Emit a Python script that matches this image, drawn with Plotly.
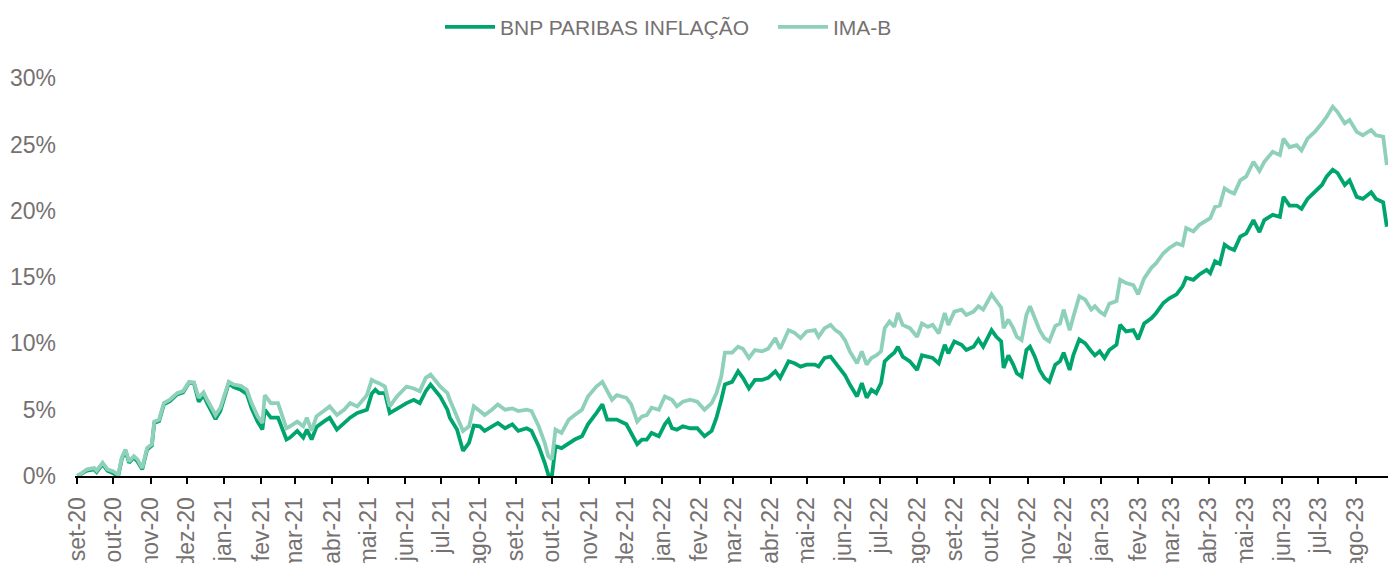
import plotly.graph_objects as go
import pandas as pd

dates = [
    "2020-09-01","2020-09-09","2020-09-15","2020-09-17","2020-09-22","2020-09-26","2020-10-01","2020-10-05",
    "2020-10-08","2020-10-11","2020-10-14","2020-10-18","2020-10-21","2020-10-25","2020-10-29","2020-11-02",
    "2020-11-04","2020-11-08","2020-11-12","2020-11-17","2020-11-23","2020-11-28","2020-12-03","2020-12-07",
    "2020-12-11","2020-12-15","2020-12-18","2020-12-25","2020-12-29","2021-01-02","2021-01-05","2021-01-09",
    "2021-01-15","2021-01-20","2021-01-24","2021-01-29","2021-02-02","2021-02-04","2021-02-09","2021-02-15",
    "2021-02-20","2021-02-22","2021-02-25","2021-03-03","2021-03-08","2021-03-11","2021-03-15","2021-03-19",
    "2021-03-25","2021-03-30","2021-04-05","2021-04-11","2021-04-16","2021-04-22","2021-04-30","2021-05-04",
    "2021-05-07","2021-05-10","2021-05-15","2021-05-19","2021-05-25","2021-06-02","2021-06-08","2021-06-13",
    "2021-06-18","2021-06-22","2021-06-30","2021-07-06","2021-07-08","2021-07-14","2021-07-19","2021-07-24",
    "2021-07-28","2021-08-02","2021-08-06","2021-08-12","2021-08-17","2021-08-23","2021-08-29","2021-09-03",
    "2021-09-10","2021-09-14","2021-09-20","2021-09-25","2021-09-28","2021-10-01","2021-10-04","2021-10-09",
    "2021-10-15","2021-10-20","2021-10-26","2021-10-31","2021-11-07","2021-11-12","2021-11-16","2021-11-20",
    "2021-11-24","2021-12-02","2021-12-06","2021-12-11","2021-12-15","2021-12-19","2021-12-23","2021-12-29",
    "2022-01-03","2022-01-06","2022-01-09","2022-01-13","2022-01-18","2022-01-24","2022-01-30","2022-02-05",
    "2022-02-11","2022-02-15","2022-02-19","2022-02-22","2022-02-28","2022-03-05","2022-03-09","2022-03-14",
    "2022-03-19","2022-03-25","2022-03-30","2022-04-05","2022-04-09","2022-04-16","2022-04-21","2022-04-26",
    "2022-05-01","2022-05-08","2022-05-11","2022-05-16","2022-05-21","2022-05-25","2022-05-29","2022-06-02",
    "2022-06-06","2022-06-12","2022-06-16","2022-06-20","2022-06-24","2022-06-28","2022-07-02","2022-07-05",
    "2022-07-09","2022-07-13","2022-07-16","2022-07-20","2022-07-26","2022-08-01","2022-08-05","2022-08-10",
    "2022-08-14","2022-08-19","2022-08-24","2022-08-27","2022-09-01","2022-09-07","2022-09-11","2022-09-17",
    "2022-09-21","2022-09-25","2022-10-02","2022-10-06","2022-10-10","2022-10-12","2022-10-16","2022-10-20",
    "2022-10-23","2022-10-27","2022-10-31","2022-11-03","2022-11-07","2022-11-11","2022-11-15","2022-11-19",
    "2022-11-24","2022-11-28","2022-12-01","2022-12-06","2022-12-09","2022-12-14","2022-12-19","2022-12-24",
    "2022-12-27","2022-12-31","2023-01-04","2023-01-08","2023-01-14","2023-01-17","2023-01-22","2023-01-28",
    "2023-02-01","2023-02-06","2023-02-12","2023-02-16","2023-02-22","2023-02-27","2023-03-05","2023-03-10",
    "2023-03-13","2023-03-19","2023-03-24","2023-03-30","2023-04-02","2023-04-06","2023-04-10","2023-04-14",
    "2023-04-18","2023-04-22","2023-04-27","2023-05-02","2023-05-08","2023-05-13","2023-05-17","2023-05-24",
    "2023-05-30","2023-06-02","2023-06-07","2023-06-13","2023-06-17","2023-06-22","2023-06-28","2023-07-04",
    "2023-07-08","2023-07-13","2023-07-17","2023-07-23","2023-07-27","2023-08-02","2023-08-07","2023-08-14",
    "2023-08-18","2023-08-24","2023-08-27",
]

bnp_inflacao = [
    0.0,0.4,0.5,0.3,0.9,0.4,0.2,0.0,
    1.3,1.9,1.0,1.4,1.1,0.5,2.0,2.3,
    4.0,4.15,5.4,5.65,6.15,6.3,7.05,7.0,
    5.6,6.1,5.5,4.3,4.9,6.1,7.0,6.7,
    6.5,6.2,5.1,4.1,3.5,5.0,4.4,4.4,
    3.3,2.75,2.9,3.4,2.9,3.5,2.75,3.7,
    4.1,4.4,3.5,4.0,4.4,4.75,5.0,6.2,
    6.5,6.25,6.25,4.75,5.1,5.5,5.75,5.5,
    6.4,6.9,6.0,5.0,4.4,3.5,1.9,2.5,
    3.8,3.75,3.4,3.75,4.0,3.6,3.9,3.4,
    3.6,3.4,2.25,1.0,0.1,0.0,2.25,2.1,
    2.5,2.75,3.0,3.9,4.75,5.4,4.25,4.25,
    4.25,3.9,3.25,2.4,2.75,2.75,3.25,3.0,
    3.9,4.25,3.6,3.5,3.75,3.6,3.6,3.0,
    3.4,4.4,5.75,6.9,7.1,7.9,7.4,6.6,
    7.25,7.25,7.4,7.9,7.4,8.65,8.5,8.25,
    8.4,8.4,8.25,8.9,9.0,8.5,8.0,7.6,
    6.9,6.0,7.0,5.9,6.5,6.25,7.0,8.65,
    9.0,9.3,9.75,9.0,8.65,8.0,9.1,9.0,
    8.9,8.5,9.9,9.25,10.15,9.9,9.5,9.75,
    10.3,9.75,11.0,10.5,10.15,8.15,9.1,8.4,
    7.75,7.5,9.5,9.75,9.0,8.0,7.4,7.1,
    8.4,8.65,9.3,8.0,9.1,10.3,10.0,9.4,
    9.1,9.4,8.9,9.5,9.9,11.4,10.9,11.0,
    10.3,11.5,11.9,12.3,13.05,13.4,13.7,14.3,
    14.95,14.8,15.2,15.55,15.3,16.2,16.0,17.45,
    17.2,17.05,18.05,18.3,19.3,18.4,19.3,19.7,
    19.55,21.05,20.4,20.4,20.15,20.9,21.4,21.95,
    22.6,23.1,22.85,21.95,22.3,21.05,20.9,21.4,
    20.9,20.65,18.8,
]

ima_b = [
    0.0,0.5,0.6,0.4,1.0,0.5,0.35,0.1,
    1.4,2.0,1.1,1.5,1.25,0.6,2.1,2.4,
    4.1,4.25,5.5,5.75,6.25,6.4,7.1,7.05,
    5.9,6.3,5.75,4.6,5.15,6.25,7.1,6.9,
    6.8,6.5,5.5,4.5,4.0,6.1,5.5,5.5,
    4.1,3.6,3.75,4.1,3.75,4.4,3.4,4.5,
    4.9,5.25,4.6,5.0,5.5,5.25,6.1,7.25,
    7.1,7.0,6.75,5.25,6.0,6.75,6.6,6.4,
    7.4,7.65,6.75,6.25,5.75,4.5,3.4,3.75,
    5.25,4.9,4.6,5.0,5.4,5.0,5.1,4.9,
    5.0,4.9,3.75,2.5,1.5,1.25,3.5,3.25,
    4.25,4.6,5.0,6.0,6.75,7.1,6.4,5.75,
    6.1,5.9,5.4,4.1,4.5,4.6,5.15,5.0,
    6.0,5.9,5.75,5.25,5.6,5.75,5.6,5.0,
    5.5,6.25,7.5,9.3,9.3,9.75,9.6,8.9,
    9.5,9.4,9.6,10.4,9.6,11.0,10.8,10.4,
    10.9,11.0,10.5,11.15,11.4,11.0,10.75,10.25,
    9.4,8.5,9.4,8.4,8.9,9.1,9.4,11.15,
    11.65,11.25,12.3,11.4,11.15,10.5,11.5,11.25,
    11.4,10.75,12.3,11.4,12.4,12.55,12.15,12.4,
    12.8,12.55,13.7,13.2,12.7,11.15,11.8,11.15,
    10.5,10.25,12.15,12.8,11.8,11.0,10.4,10.15,
    11.3,11.5,12.55,11.0,12.0,13.55,13.3,12.55,
    12.8,12.4,12.15,13.0,13.2,14.8,14.55,14.4,
    13.7,14.9,15.7,16.05,16.8,17.2,17.55,17.4,
    18.7,18.45,18.95,19.3,19.45,20.3,20.4,21.7,
    21.45,21.3,22.3,22.6,23.7,23.0,23.7,24.45,
    24.2,25.45,24.8,24.95,24.55,25.45,25.95,26.6,
    27.1,27.85,27.45,26.6,26.85,25.95,25.7,26.1,
    25.7,25.6,23.45,
]

month_labels = [
    "set-20","out-20","nov-20","dez-20","jan-21","fev-21","mar-21","abr-21","mai-21","jun-21",
    "jul-21","ago-21","set-21","out-21","nov-21","dez-21","jan-22","fev-22","mar-22","abr-22",
    "mai-22","jun-22","jul-22","ago-22","set-22","out-22","nov-22","dez-22","jan-23","fev-23",
    "mar-23","abr-23","mai-23","jun-23","jul-23","ago-23",
]
y_ticks = [0, 5, 10, 15, 20, 25, 30]

month_starts = pd.date_range("2020-09-01", periods=len(month_labels), freq="MS")

DARK = "#00A56E"
LIGHT = "#8ED0BA"
TEXT = "#767171"
FONT = "Liberation Sans, Arial, sans-serif"

fig = go.Figure()
fig.add_trace(go.Scatter(x=dates, y=bnp_inflacao, mode="lines", name="BNP PARIBAS INFLAÇÃO",
                         line=dict(color=DARK, width=3.8)))
fig.add_trace(go.Scatter(x=dates, y=ima_b, mode="lines", name="IMA-B",
                         line=dict(color=LIGHT, width=3.8)))

fig.update_layout(
    width=1388, height=563,
    margin=dict(l=75, r=0, t=65, b=87, autoexpand=False),
    paper_bgcolor="white", plot_bgcolor="white",
    font=dict(family=FONT, color=TEXT, size=23),
    showlegend=True,
    legend=dict(orientation="h", x=0.278, xanchor="left", y=1.092, yanchor="middle",
                font=dict(size=21, color=TEXT), itemwidth=50,
                entrywidth=268, entrywidthmode="pixels",
                bgcolor="rgba(0,0,0,0)"),
    xaxis=dict(
        type="date", range=["2020-08-30", "2023-08-28"], automargin=False,
        tickvals=month_starts, ticktext=month_labels, tickangle=-90,
        ticks="outside", ticklen=6, tickwidth=2, tickcolor="black",
        showline=True, linecolor="black", linewidth=2,
        showgrid=False, zeroline=False,
        tickfont=dict(size=23, color=TEXT), ticklabelstandoff=4,
    ),
    yaxis=dict(
        range=[0, 31], tickvals=y_ticks, ticktext=[f"{v}%" for v in y_ticks], automargin=False,
        showgrid=False, zeroline=False, showline=False, ticks="",
        tickfont=dict(size=23, color=TEXT), ticklabelstandoff=18,
    ),
)

# remove the default page margin so the 1388x563 figure fills the window exactly
fig.write_html("out.html",
               config={"displayModeBar": False},
               post_script="document.body.style.margin='0';document.body.style.overflow='hidden';")
